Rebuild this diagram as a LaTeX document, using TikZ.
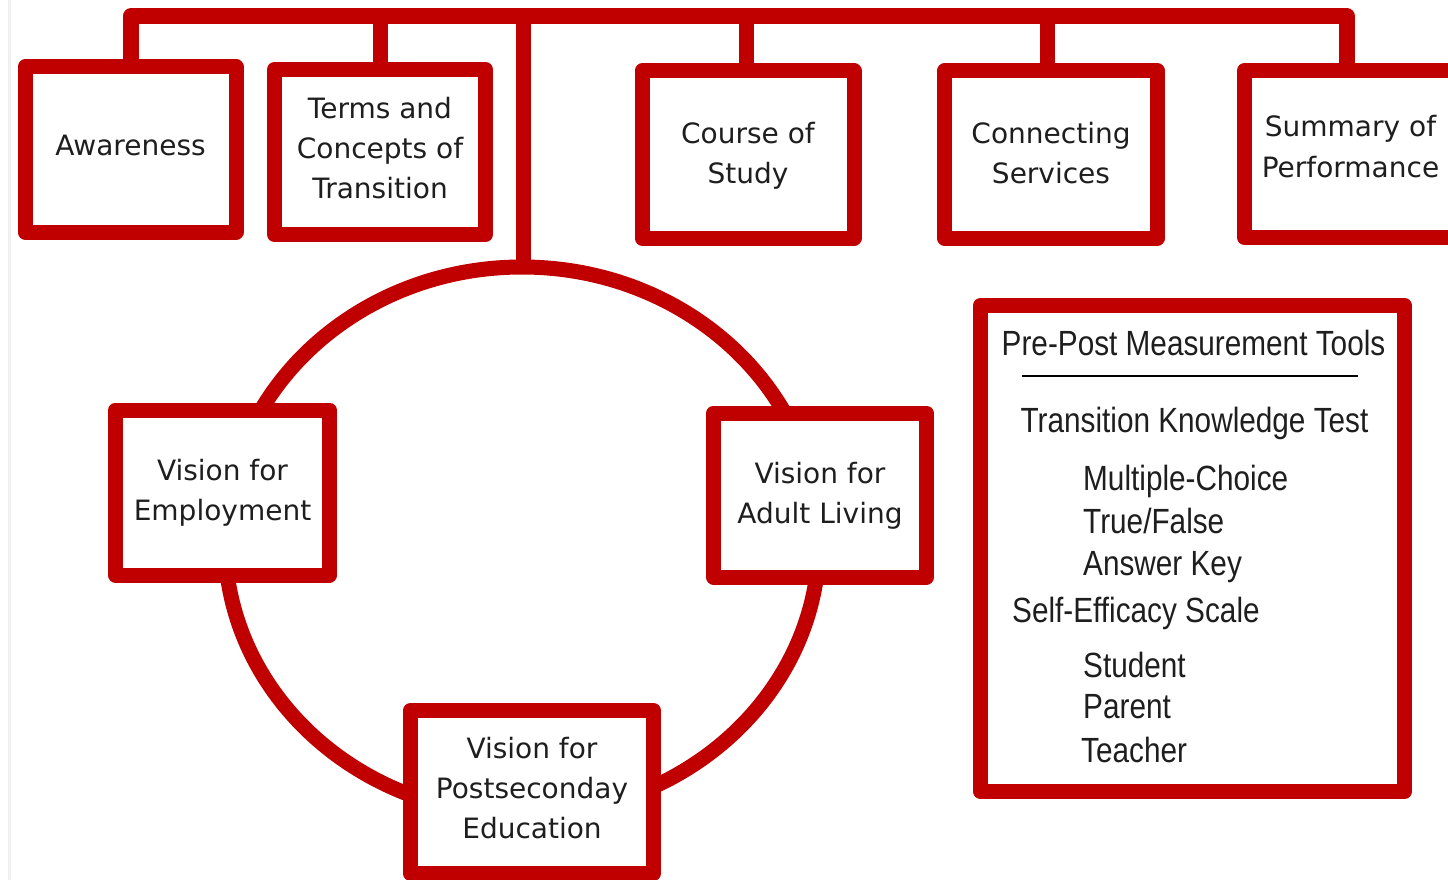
\documentclass[tikz,border=0pt]{standalone}
\usepackage{fontspec}
\usetikzlibrary{shapes.geometric}
\newfontfamily\boxfont{DejaVu Sans}
\newfontfamily\narrowfont[FakeStretch=0.85]{Liberation Sans}
\definecolor{ored}{HTML}{C00000}
\definecolor{txt}{HTML}{1E1E1E}
\begin{document}
\begin{tikzpicture}[x=1pt,y=-1pt,
  box/.style={draw=ored, line width=15pt, fill=white, line join=round,
    inner sep=0pt, outer sep=0pt, align=center, text=txt,
    font=\boxfont\fontsize{28}{40}\selectfont},
  tb/.style={text height=#1, text depth=0pt},
  conn/.style={draw=ored, line width=15pt, line join=round},
  tool/.style={font=\narrowfont\fontsize{35}{40}\selectfont, anchor=base west,
    inner sep=0pt, text=txt}]
\useasboundingbox (0,0) rectangle (1448,880);
\clip (0,0) rectangle (1448,880);
\fill[white] (0,0) rectangle (1448,880);
\draw[gray!12, line width=3pt] (9.5,0) -- (9.5,880);

% ring
\node[draw=ored, line width=15pt, ellipse, minimum width=594pt, minimum height=548pt,
  inner sep=0pt, outer sep=0pt] (ring) at (522,541) {};

% top boxes
\node[box, text height=20pt, text depth=9pt, minimum width=211pt, minimum height=165pt] (aw) at (130.5,149.5) {Awareness};
\node[box, tb=92pt, minimum width=211pt, minimum height=165pt] (tc) at (380,152) {Terms and\\Concepts of\\Transition};
\node[box, tb=57pt, minimum width=212pt, minimum height=167pt] (cs) at (748,154.5) {Course of\\Study};
\node[box, tb=57pt, minimum width=213pt, minimum height=167pt] (cn) at (1051,154.5) {Connecting\\Services};
\node[box, tb=46pt, minimum width=212pt, minimum height=167pt] (sp) at (1350.5,154) {Summary of\\Performance};

% vision boxes
\node[box, tb=55pt, minimum width=214pt, minimum height=165pt] (emp) at (222.5,492.5) {Vision for\\Employment};
\node[box, tb=56pt, minimum width=213pt, minimum height=164pt] (adl) at (820,495) {Vision for\\Adult Living};
\node[box, tb=92pt, minimum width=243.5pt, minimum height=162.5pt] (pse) at (532,792) {Vision for\\Postseconday\\Education};

% connectors
\coordinate (bar) at (0,16.5);
\draw[conn, line width=16pt] (aw.north) |- ([xshift=-3.5pt]sp.north |- bar) -- ([xshift=-3.5pt]sp.north);
\draw[conn] (tc.north) -- (tc.north |- bar);
\draw[conn] ([xshift=-2pt]cs.north) -- ([xshift=-2pt]cs.north |- bar);
\draw[conn] ([xshift=-4pt]cn.north) -- ([xshift=-4pt]cn.north |- bar);
\draw[conn] ([xshift=1.5pt]ring.north) -- ([xshift=1.5pt]ring.north |- bar);

% measurement tools box
\node[box, minimum width=424pt, minimum height=486pt] (tools) at (1192.5,548.5) {};
\node[tool, anchor=base] (t0) at (1193.5,355) {Pre-Post Measurement Tools};
\draw[black, line width=2pt] (1022,376) -- (1358,376);
\node[tool, anchor=base] (t1) at (1194.5,432) {Transition Knowledge Test};
\node[tool] (t2) at (1083,490) {Multiple-Choice};
\node[tool] (t3) at (1083,533) {True/False};
\node[tool] (t4) at (1083,575) {Answer Key};
\node[tool] (t5) at (1012,622) {Self-Efficacy Scale};
\node[tool] (t6) at (1083,677) {Student};
\node[tool] (t7) at (1083,718) {Parent};
\node[tool] (t8) at (1081,762) {Teacher};
\end{tikzpicture}
\end{document}
